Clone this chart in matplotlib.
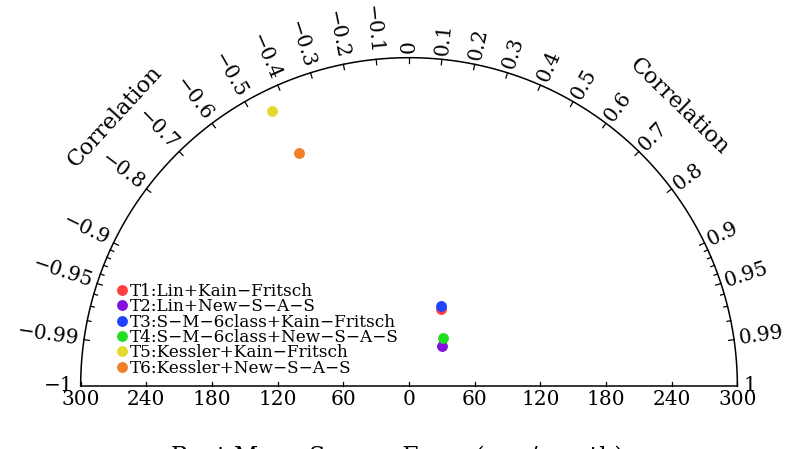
import numpy as np
import matplotlib
matplotlib.use("Agg")
import matplotlib.pyplot as plt

# Experiments: correlation with observations and RMSE (mm/month)
experiments = [
    "T1:Lin+Kain−Fritsch",
    "T2:Lin+New−S−A−S",
    "T3:S−M−6class+Kain−Fritsch",
    "T4:S−M−6class+New−S−A−S",
    "T5:Kessler+Kain−Fritsch",
    "T6:Kessler+New−S−A−S",
]
correlation = [0.385, 0.638, 0.371, 0.584, -0.445, -0.426]
rmse = [75.9, 47.7, 78.7, 53.7, 280.9, 235.0]
colors = ["#ff3f3f", "#8410dc", "#1e44ff", "#22dd22", "#e4da2e", "#f07e2a"]

# Correlation ticks on the arc, RMSE ticks on the base line
corr_major = [-0.99, -0.95, -0.9, -0.8, -0.7, -0.6, -0.5, -0.4, -0.3, -0.2, -0.1,
              0.0, 0.1, 0.2, 0.3, 0.4, 0.5, 0.6, 0.7, 0.8, 0.9, 0.95, 0.99]
corr_end = [-1.0, 1.0]
corr_minor = [-0.98, -0.97, -0.96, -0.94, -0.93, -0.92, -0.91,
              0.91, 0.92, 0.93, 0.94, 0.96, 0.97, 0.98]
rmse_ticks = [-300, -240, -180, -120, -60, 0, 60, 120, 180, 240, 300]
rmse_max = 300

FONT = "DejaVu Serif"

fig = plt.figure(figsize=(7.98, 4.49), dpi=100)
ax = fig.add_axes([0, 0, 1, 1])
ax.set_xlim(-373.7, 355.4)
ax.set_ylim(-57.6, 352.7)
ax.axis("off")

# Outer arc and base line
t = np.linspace(0, np.pi, 400)
ax.plot(rmse_max * np.cos(t), rmse_max * np.sin(t), color="black", lw=1.1)
ax.plot([-rmse_max, rmse_max], [0, 0], color="black", lw=1.1)


def fmt(v):
    return f"{v:g}".replace("-", "−")


# Arc ticks (inward) and radial labels
for c, ln in [(c, 5.0) for c in corr_major] + [(c, 3.5) for c in corr_minor]:
    th = np.arccos(c)
    r0, r1 = rmse_max - ln, rmse_max
    ax.plot([r0 * np.cos(th), r1 * np.cos(th)], [r0 * np.sin(th), r1 * np.sin(th)],
            color="black", lw=0.9)

for c in corr_major + corr_end:
    th = np.arccos(c)
    deg = np.degrees(th)
    pad = 4.0 if c >= 0 else 5.0
    if abs(c) == 1.0:
        pad = 6.0
    x = (rmse_max + pad) * np.cos(th)
    y = (rmse_max + pad) * np.sin(th)
    if c >= 0:
        rot, ha = deg, "left"
    else:
        rot, ha = deg - 180, "right"
    ax.text(x, y, fmt(c), rotation=rot, rotation_mode="anchor", ha=ha, va="center",
            fontsize=14.5, family=FONT)

# "Correlation" captions along the arc
for ang, r in ((46.0, 355.0), (137.5, 364.0)):
    th = np.radians(ang)
    ax.text(r * np.cos(th), r * np.sin(th), "Correlation", rotation=ang - 90,
            rotation_mode="anchor", ha="center", va="center", fontsize=16, family=FONT)

# RMSE ticks and labels along the base line
for v in rmse_ticks:
    ax.plot([v, v], [0, 3.5], color="black", lw=0.9)
    ax.text(v, -3.5, f"{abs(v)}", ha="center", va="top", fontsize=14.5, family=FONT)

ax.text(-11, -54.5, "Root Mean Square Error (mm/month)", ha="center", va="top",
        fontsize=17, family=FONT)

# Experiment points
handles = []
for name, c, r, col in zip(experiments, correlation, rmse, colors):
    th = np.arccos(c)
    h, = ax.plot(r * np.cos(th), r * np.sin(th), marker="o", ls="none", ms=6.8,
                 color=col, mec=col, label=name)
    handles.append(h)

leg = ax.legend(handles=handles, loc="upper left",
                bbox_to_anchor=(118 / 798, 1 - 283 / 449),
                frameon=False, handlelength=0.5, handletextpad=0.2,
                borderpad=0, borderaxespad=0, labelspacing=-0.1,
                prop={"family": FONT, "size": 12.2})

fig.savefig("out.png", dpi=100)
